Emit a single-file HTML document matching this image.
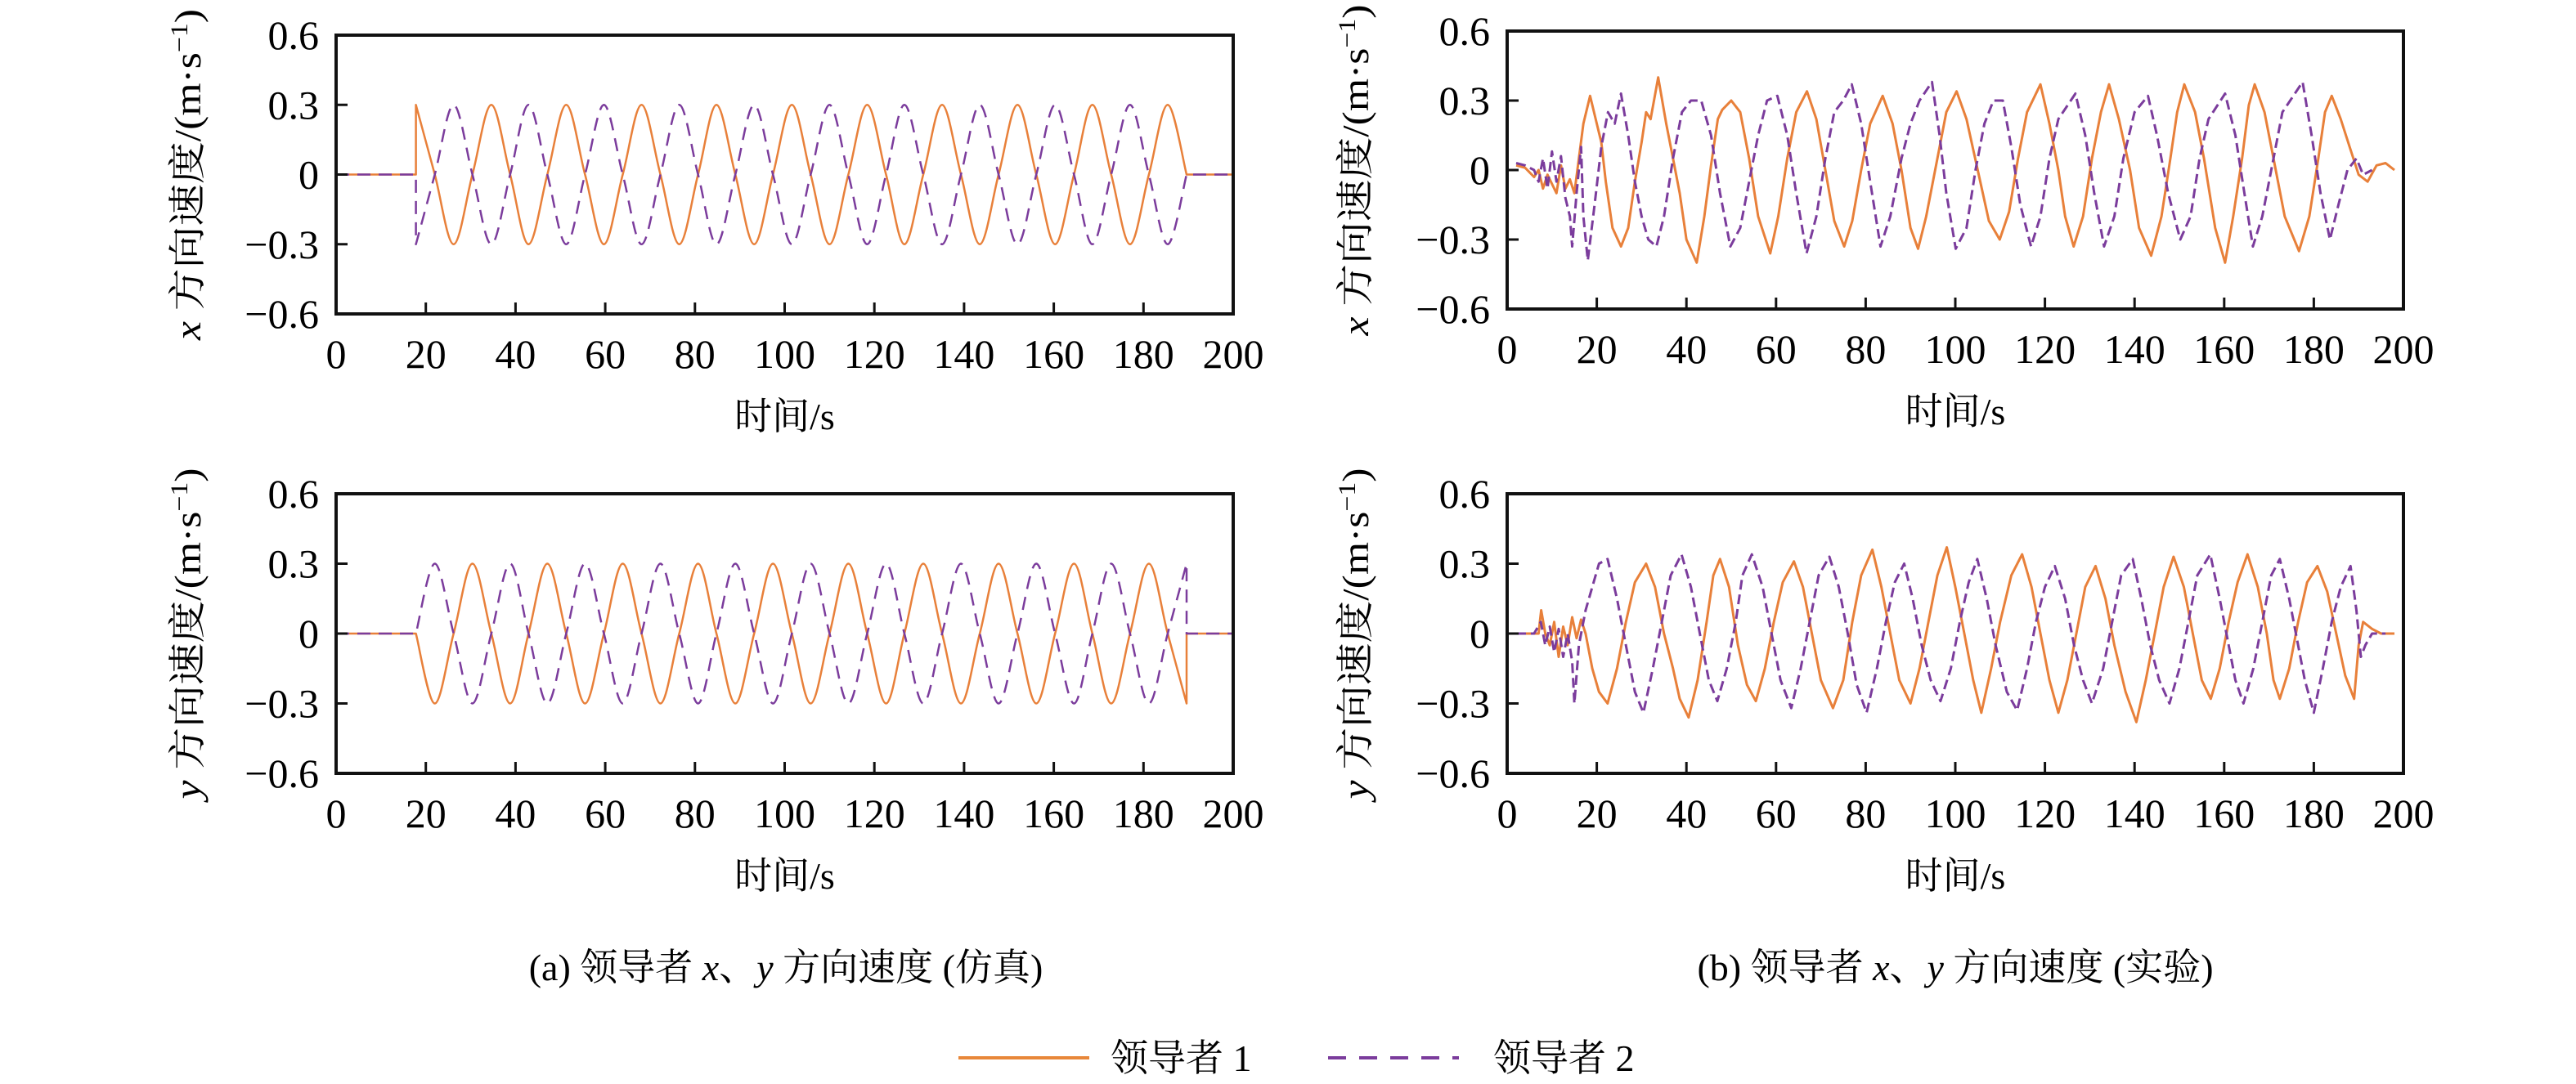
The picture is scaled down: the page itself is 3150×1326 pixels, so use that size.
<!DOCTYPE html>
<html><head><meta charset="utf-8">
<style>
html,body{margin:0;padding:0;background:#fff;}
svg{display:block;font-family:"Liberation Serif","Noto Serif CJK SC",serif;}
</style></head>
<body>
<svg id="chart" xmlns="http://www.w3.org/2000/svg" width="3150" height="1326" viewBox="0 0 3150 1326">
<rect width="3150" height="1326" fill="#fff"/>
<g id="panels"></g>
<text x="961" y="1199" font-size="46" text-anchor="middle">(a) 领导者 <tspan font-style="italic">x</tspan>、<tspan font-style="italic">y</tspan> 方向速度 (仿真)</text>
<text x="2391" y="1199" font-size="46" text-anchor="middle">(b) 领导者 <tspan font-style="italic">x</tspan>、<tspan font-style="italic">y</tspan> 方向速度 (实验)</text>
<g>
  <line x1="1172" y1="1294" x2="1332" y2="1294" stroke="#E8873A" stroke-width="4"/>
  <text x="1358" y="1310" font-size="46">领导者 1</text>
  <line x1="1624" y1="1294" x2="1784" y2="1294" stroke="#7B3C9C" stroke-width="4" stroke-dasharray="22 16"/>
  <text x="1826" y="1310" font-size="46">领导者 2</text>
</g>
</svg>
<script>
// ---- data ----
const xTicks = [0,20,40,60,80,100,120,140,160,180,200];
const yTicks = [0.6,0.3,0,-0.3,-0.6];
const yTickLabels = ["0.6","0.3","0","\u22120.3","\u22120.6"];

const simTimes = [0,17.8,17.8,22.0,26.2,30.4,34.6,38.8,42.9,47.1,51.3,55.5,59.7,63.9,68.1,72.3,76.5,80.7,84.8,89.0,93.2,97.4,101.6,105.8,110.0,114.2,118.4,122.6,126.7,130.9,135.1,139.3,143.5,147.7,151.9,156.1,160.3,164.5,168.6,172.8,177.0,181.2,185.4,189.6,189.6,200];
const simLeader1X = [0,0,0.3,0,-0.3,0,0.3,0,-0.3,0,0.3,0,-0.3,0,0.3,0,-0.3,0,0.3,0,-0.3,0,0.3,0,-0.3,0,0.3,0,-0.3,0,0.3,0,-0.3,0,0.3,0,-0.3,0,0.3,0,-0.3,0,0.3,0,0,0];
const simLeader2X = [0,0,-0.3,0,0.3,0,-0.3,0,0.3,0,-0.3,0,0.3,0,-0.3,0,0.3,0,-0.3,0,0.3,0,-0.3,0,0.3,0,-0.3,0,0.3,0,-0.3,0,0.3,0,-0.3,0,0.3,0,-0.3,0,0.3,0,-0.3,0,0,0];
const simLeader1Y = [0,0,0,-0.3,0,0.3,0,-0.3,0,0.3,0,-0.3,0,0.3,0,-0.3,0,0.3,0,-0.3,0,0.3,0,-0.3,0,0.3,0,-0.3,0,0.3,0,-0.3,0,0.3,0,-0.3,0,0.3,0,-0.3,0,0.3,0,-0.3,0,0];
const simLeader2Y = [0,0,0,0.3,0,-0.3,0,0.3,0,-0.3,0,0.3,0,-0.3,0,0.3,0,-0.3,0,0.3,0,-0.3,0,0.3,0,-0.3,0,0.3,0,-0.3,0,0.3,0,-0.3,0,0.3,0,-0.3,0,0.3,0,-0.3,0,0.3,0,0];

const expLeader1X = [[2,0.02],[4,0.01],[6,-0.03],[7,0.0],[8,-0.08],[9,-0.02],[10,-0.06],[11,-0.1],[12,0.02],[13,-0.08],[14,-0.04],[15,-0.1],[16,0.05],[17,0.2],[18.5,0.32],[20,0.2],[21,0.12],[22,-0.05],[23.5,-0.25],[25.4,-0.33],[27,-0.25],[28.5,-0.05],[30,0.12],[31,0.25],[32,0.22],[33.7,0.4],[35.5,0.2],[37,0.05],[38.5,-0.1],[40,-0.3],[42.3,-0.4],[44,-0.2],[45.5,0.02],[47,0.22],[48,0.26],[50,0.3],[52,0.25],[54,0.05],[56,-0.2],[58.7,-0.36],[60.5,-0.2],[62.5,0.05],[64.5,0.25],[66.9,0.34],[69,0.22],[71,0.0],[73,-0.22],[75.2,-0.33],[77,-0.22],[79,0.0],[81,0.2],[83.8,0.32],[86,0.2],[88,0.0],[90,-0.25],[91.7,-0.34],[93.5,-0.2],[96,0.05],[98,0.25],[100.3,0.34],[102.5,0.22],[105,0.0],[107.5,-0.22],[109.9,-0.3],[112,-0.18],[114,0.05],[116,0.25],[119,0.37],[121,0.2],[123,0.0],[124.5,-0.2],[126.4,-0.33],[128.5,-0.2],[130.5,0.05],[132.5,0.25],[134.3,0.37],[136.5,0.22],[139,0.0],[141,-0.25],[143.7,-0.37],[146,-0.2],[148,0.05],[149.5,0.25],[151.1,0.37],[153.5,0.25],[155.5,0.05],[158,-0.25],[160.2,-0.4],[162,-0.2],[164,0.05],[165.5,0.28],[166.8,0.37],[169,0.25],[171,0.05],[173.5,-0.2],[176.7,-0.35],[179,-0.2],[181,0.05],[182.5,0.25],[184,0.32],[186,0.22],[188,0.1],[190,-0.02],[192,-0.05],[194,0.02],[196,0.03],[198,0.0]];
const expLeader2X = [[2,0.03],[4,0.02],[6,0.0],[7,-0.05],[8,0.05],[9,-0.08],[10,0.08],[11,-0.05],[12,0.06],[13,-0.12],[14,-0.2],[14.5,-0.33],[15.5,-0.1],[16.5,0.1],[17,-0.2],[18,-0.39],[19.5,-0.15],[21,0.1],[22.5,0.25],[24,0.2],[25.4,0.33],[27,0.15],[28.5,-0.05],[30,-0.2],[31.5,-0.3],[33.3,-0.33],[35,-0.2],[37,0.05],[39,0.25],[41,0.3],[43.3,0.3],[45.5,0.15],[47.5,-0.1],[49.8,-0.33],[52,-0.25],[54,-0.05],[56,0.15],[58,0.3],[60.3,0.32],[62.5,0.15],[64.5,-0.1],[66.8,-0.36],[69,-0.2],[71,0.05],[73,0.25],[75,0.3],[76.9,0.37],[79,0.2],[81,-0.05],[83.3,-0.33],[85.5,-0.2],[88,0.05],[90,0.2],[92,0.3],[94.8,0.38],[96.5,0.15],[98,-0.1],[100.1,-0.34],[102.5,-0.25],[104.5,0.0],[106.5,0.2],[108.5,0.3],[110.6,0.3],[112.5,0.1],[114.5,-0.15],[116.9,-0.33],[119,-0.2],[121,0.05],[123,0.22],[126.8,0.33],[129,0.15],[131,-0.1],[133.2,-0.33],[135.5,-0.2],[137.5,0.05],[140,0.25],[143,0.32],[145,0.15],[147.5,-0.1],[150.2,-0.3],[152.5,-0.2],[154.5,0.05],[156.5,0.22],[160.2,0.33],[162.5,0.15],[164.5,-0.1],[166.4,-0.33],[168.5,-0.2],[171,0.05],[173,0.25],[177.5,0.38],[179.5,0.15],[181.5,-0.1],[183.6,-0.3],[185.5,-0.15],[187.5,0.0],[189.5,0.05],[191,-0.02],[193,0.0]];
const expLeader1Y = [[2,0.0],[5,0.0],[7,0.0],[7.6,0.1],[8.5,0.0],[9.5,-0.05],[10.5,0.05],[11.5,-0.1],[12.5,0.03],[13.5,-0.05],[14.5,0.07],[15.5,-0.02],[16.5,0.06],[17.5,0.0],[19,-0.15],[20.5,-0.25],[22.4,-0.3],[24.5,-0.15],[26.5,0.05],[28.5,0.22],[31,0.3],[33,0.2],[35,0.0],[37,-0.15],[38.5,-0.28],[40.5,-0.36],[42.5,-0.2],[44.5,0.05],[46,0.25],[47.5,0.32],[49.5,0.2],[51.5,-0.05],[53.5,-0.22],[55.5,-0.29],[57.5,-0.15],[59.5,0.05],[61.5,0.22],[64,0.31],[66,0.2],[68,0.0],[70,-0.2],[72.7,-0.32],[75,-0.2],[77,0.05],[79,0.25],[81.5,0.36],[83.5,0.2],[85.5,0.0],[87.5,-0.2],[90,-0.3],[92,-0.15],[94,0.05],[96,0.25],[98.1,0.37],[100,0.2],[102,0.0],[104,-0.2],[105.8,-0.34],[108,-0.15],[110,0.05],[112.5,0.25],[114.9,0.34],[117,0.2],[119,0.0],[121,-0.2],[123,-0.34],[125,-0.2],[127,0.0],[129,0.2],[131.3,0.29],[133.5,0.15],[135.5,-0.05],[138,-0.25],[140.4,-0.38],[142.5,-0.2],[144.5,0.0],[146.5,0.2],[148.7,0.33],[151,0.2],[153,0.0],[155,-0.2],[157,-0.28],[159,-0.15],[161,0.05],[163,0.22],[165.2,0.34],[167.5,0.2],[169.5,0.0],[171,-0.2],[172.4,-0.28],[174.5,-0.15],[176.5,0.05],[178.5,0.22],[180.8,0.29],[183,0.18],[185,0.0],[187,-0.18],[189,-0.28],[190,-0.05],[191,0.05],[193,0.02],[195,0.0],[198,0.0]];
const expLeader2Y = [[2,0.0],[6,0.0],[7.5,0.05],[8.5,-0.05],[9.5,0.03],[10.5,-0.08],[11.5,0.02],[12.5,-0.1],[13.5,0.0],[14.5,-0.12],[15,-0.3],[16,-0.05],[17.5,0.1],[19,0.2],[20.5,0.3],[22.4,0.32],[24.5,0.15],[26.5,-0.05],[28.5,-0.25],[30.4,-0.34],[32.5,-0.15],[34.5,0.05],[36.5,0.25],[38.9,0.34],[41,0.2],[43,0.0],[45,-0.2],[46.9,-0.29],[49,-0.15],[51,0.05],[52.5,0.25],[54.6,0.34],[57,0.2],[59,0.0],[61,-0.2],[63.4,-0.32],[65.5,-0.15],[67.5,0.05],[69.5,0.25],[71.9,0.33],[74,0.2],[76,0.0],[78,-0.22],[80.2,-0.34],[82.5,-0.15],[84.5,0.05],[86.5,0.22],[88.6,0.3],[90.5,0.15],[92.5,-0.05],[94.5,-0.2],[96.7,-0.29],[99,-0.15],[101,0.05],[103,0.22],[104.9,0.32],[107,0.15],[109,-0.05],[111.5,-0.25],[113.8,-0.33],[116,-0.15],[118,0.05],[120,0.2],[122.2,0.29],[124.5,0.15],[126.5,-0.05],[128.5,-0.2],[130.5,-0.3],[133,-0.15],[135,0.05],[137,0.25],[139.6,0.32],[141.5,0.15],[143.5,-0.05],[145.5,-0.2],[147.8,-0.3],[150,-0.15],[152,0.05],[154,0.25],[156.9,0.34],[159,0.15],[161,-0.05],[162.5,-0.2],[164.3,-0.3],[166.5,-0.15],[168.5,0.05],[170.5,0.25],[172.4,0.32],[174.5,0.15],[176.5,-0.05],[178,-0.2],[180,-0.34],[182,-0.15],[184,0.05],[186,0.2],[188.2,0.29],[189.5,0.1],[190.5,-0.1],[191.5,-0.05],[193,0.0],[196,0.0]];

// ---- layout ----
const NS = "http://www.w3.org/2000/svg";
const ORANGE = "#E8803A", PURPLE = "#7B3C9C";
const panels = [
  {id:"sim-x", x0:411, x1:1508, yT:43, yB:384, axis:"x", smooth:true,
   s1: simTimes.map((t,i)=>[t,simLeader1X[i]]), s2: simTimes.map((t,i)=>[t,simLeader2X[i]]), lx:230},
  {id:"exp-x", x0:1843, x1:2939, yT:38, yB:378, axis:"x", smooth:false, s1:expLeader1X, s2:expLeader2X, lx:1658},
  {id:"sim-y", x0:411, x1:1508, yT:604, yB:946, axis:"y", smooth:true,
   s1: simTimes.map((t,i)=>[t,simLeader1Y[i]]), s2: simTimes.map((t,i)=>[t,simLeader2Y[i]]), lx:230},
  {id:"exp-y", x0:1843, x1:2939, yT:604, yB:946, axis:"y", smooth:false, s1:expLeader1Y, s2:expLeader2Y, lx:1658}
];

function el(tag, attrs, parent){
  const e = document.createElementNS(NS, tag);
  for (const k in attrs) e.setAttribute(k, attrs[k]);
  parent.appendChild(e);
  return e;
}

function pathFrom(pts, sx, sy, smooth){
  const P = pts.map(p=>[sx(p[0]), sy(p[1])]);
  let d = "M" + P[0][0].toFixed(1) + "," + P[0][1].toFixed(1);
  for (let i=0;i<P.length-1;i++){
    const p1=P[i], p2=P[i+1];
    if (!smooth || Math.abs(p1[0]-p2[0])<0.01){ d += "L"+p2[0].toFixed(1)+","+p2[1].toFixed(1); continue; }
    let p0 = P[i-1]||p1, p3 = P[i+2]||p2;
    if (Math.abs(p0[0]-p1[0])<0.01) p0 = p1;
    if (Math.abs(p3[0]-p2[0])<0.01) p3 = p2;
    const c1=[p1[0]+(p2[0]-p0[0])/6, p1[1]+(p2[1]-p0[1])/6];
    const c2=[p2[0]-(p3[0]-p1[0])/6, p2[1]-(p3[1]-p1[1])/6];
    d += "C"+c1[0].toFixed(1)+","+c1[1].toFixed(1)+" "+c2[0].toFixed(1)+","+c2[1].toFixed(1)+" "+p2[0].toFixed(1)+","+p2[1].toFixed(1);
  }
  return d;
}

const root = document.getElementById("panels");
panels.forEach(p=>{
  const g = el("g", {}, root);
  
  
  const sx = t => p.x0 + (t/200)*(p.x1-p.x0);
  const sy = v => p.yB - ((v+0.6)/1.2)*(p.yB-p.yT);

  const l1 = el("path", {d:pathFrom(p.s1,sx,sy,p.smooth), fill:"none", stroke:ORANGE, "stroke-width":p.smooth?2.5:3, "stroke-linejoin":"round"}, g);
  
  
  const l2 = el("path", {d:pathFrom(p.s2,sx,sy,p.smooth), fill:"none", stroke:PURPLE, "stroke-width":p.smooth?2.5:3, "stroke-dasharray":p.smooth?"16 10":"12 6", "stroke-linejoin":"round"}, g);
  
  

  const fr = el("rect", {x:p.x0, y:p.yT, width:p.x1-p.x0, height:p.yB-p.yT, fill:"none", stroke:"#111", "stroke-width":4}, g);
  
  

  xTicks.forEach(t=>{
    const x = sx(t);
    if (t>0 && t<200){
      const tk = el("line", {x1:x, x2:x, y1:p.yB, y2:p.yB-14, stroke:"#111", "stroke-width":3}, g);
      
      
    }
    const lb = el("text", {x:x, y:p.yB+66, "font-size":50, "text-anchor":"middle"}, g);
    lb.textContent = String(t);
    
    
  });
  yTicks.forEach((v,i)=>{
    const y = sy(v);
    if (Math.abs(v)<0.5){
      const tk = el("line", {x1:p.x0, x2:p.x0+14, y1:y, y2:y, stroke:"#111", "stroke-width":3}, g);
      
      
    }
    const lb = el("text", {x:p.x0-21, y:y+17, "font-size":50, "text-anchor":"end"}, g);
    lb.textContent = yTickLabels[i];
    
    
  });
  const xt = el("text", {x:(p.x0+p.x1)/2, y:p.yB+141, "font-size":46, "text-anchor":"middle"}, g);
  xt.textContent = "时间/s";
  
  
  const cy = (p.yT+p.yB)/2;
  const yt = el("text", {x:0, y:0, "font-size":46, "text-anchor":"middle", transform:"translate("+(p.lx+15)+","+cy+") rotate(-90)", textLength:405, lengthAdjust:"spacingAndGlyphs"}, g);
  
  
  const a = el("tspan", {"font-style":"italic"}, yt); a.textContent = p.axis;
  const b = el("tspan", {}, yt); b.textContent = " 方向速度/(m·s";
  const c = el("tspan", {"font-size":30, dy:-16}, yt); c.textContent = "\u22121";
  const d = el("tspan", {dy:16}, yt); d.textContent = ")";
});
</script>
</body></html>
